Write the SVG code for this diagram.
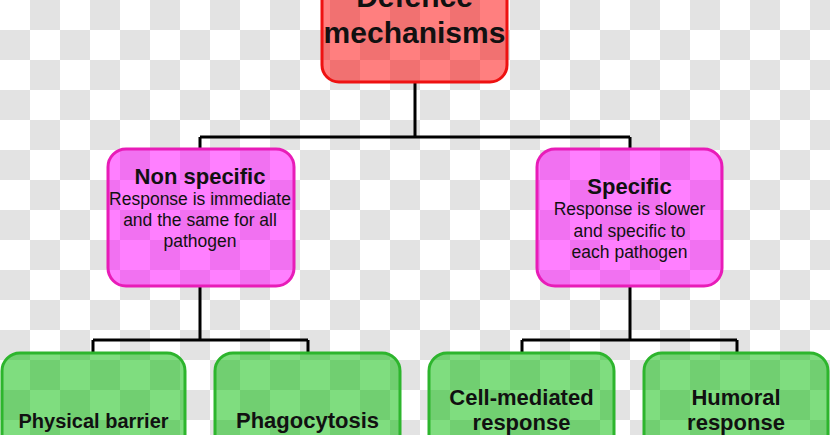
<svg xmlns="http://www.w3.org/2000/svg" width="830" height="435" viewBox="0 0 830 435">
<defs>
<pattern id="checker" patternUnits="userSpaceOnUse" width="60" height="60">
<rect width="60" height="60" fill="#ffffff"/>
<rect x="30" y="0" width="30" height="30" fill="#e3e3e3"/>
<rect x="0" y="30" width="30" height="30" fill="#e3e3e3"/>
</pattern>
</defs>
<style>
.red{fill:#ff0000;fill-opacity:0.5;stroke:#ee1111;stroke-width:3}
.pink{fill:#ff00ff;fill-opacity:0.5;stroke:#e81cb8;stroke-width:3}
.green{fill:#00bb00;fill-opacity:0.5;stroke:#2db52d;stroke-width:3}
.conn{fill:none;stroke:#000;stroke-width:3}
text{font-family:"Liberation Sans",Arial,sans-serif;text-anchor:middle;fill:#111}
.b{font-weight:bold}
.t30{font-size:30px}
.t22{font-size:22px}
.t20{font-size:20px}
.t17{font-size:17.5px}
</style>
<rect width="830" height="435" fill="url(#checker)"/>
<g id="connectors">
<path class="conn" d="M415,82 V137 M200,137 H630 M200,137 V149 M630,137 V149"/>
<path class="conn" d="M200,286 V340 M93,340 H308 M93,340 V353 M308,340 V353"/>
<path class="conn" d="M630,286 V340 M522,340 H737 M522,340 V353 M737,340 V353"/>
</g>
<g id="defence">
<rect class="red" x="322" y="-40" width="185" height="122" rx="17"/>
<text class="b t30" x="414.5" y="7">Defence</text>
<text class="b t30" x="414.5" y="43">mechanisms</text>
</g>
<g id="nonspecific">
<rect class="pink" x="108" y="149" width="186" height="137" rx="18"/>
<text class="b t22" x="200" y="184">Non specific</text>
<text class="t17" x="200" y="205">Response is immediate</text>
<text class="t17" x="200" y="226">and the same for all</text>
<text class="t17" x="200" y="247">pathogen</text>
</g>
<g id="specific">
<rect class="pink" x="537" y="149" width="185" height="137" rx="18"/>
<text class="b t22" x="629.5" y="194">Specific</text>
<text class="t17" x="629.5" y="215">Response is slower</text>
<text class="t17" x="629.5" y="237">and specific to</text>
<text class="t17" x="629.5" y="258">each pathogen</text>
</g>
<g id="physical">
<rect class="green" x="2" y="353" width="183" height="120" rx="18"/>
<text class="b t20" x="93.5" y="428">Physical barrier</text>
</g>
<g id="phagocytosis">
<rect class="green" x="215" y="353" width="185" height="120" rx="18"/>
<text class="b t22" x="307.5" y="428">Phagocytosis</text>
</g>
<g id="cellmediated">
<rect class="green" x="429" y="353" width="185" height="120" rx="18"/>
<text class="b t22" x="521.5" y="405">Cell-mediated</text>
<text class="b t22" x="521.5" y="430">response</text>
</g>
<g id="humoral">
<rect class="green" x="644" y="353" width="184" height="120" rx="18"/>
<text class="b t22" x="736" y="405">Humoral</text>
<text class="b t22" x="736" y="430">response</text>
</g>
</svg>
